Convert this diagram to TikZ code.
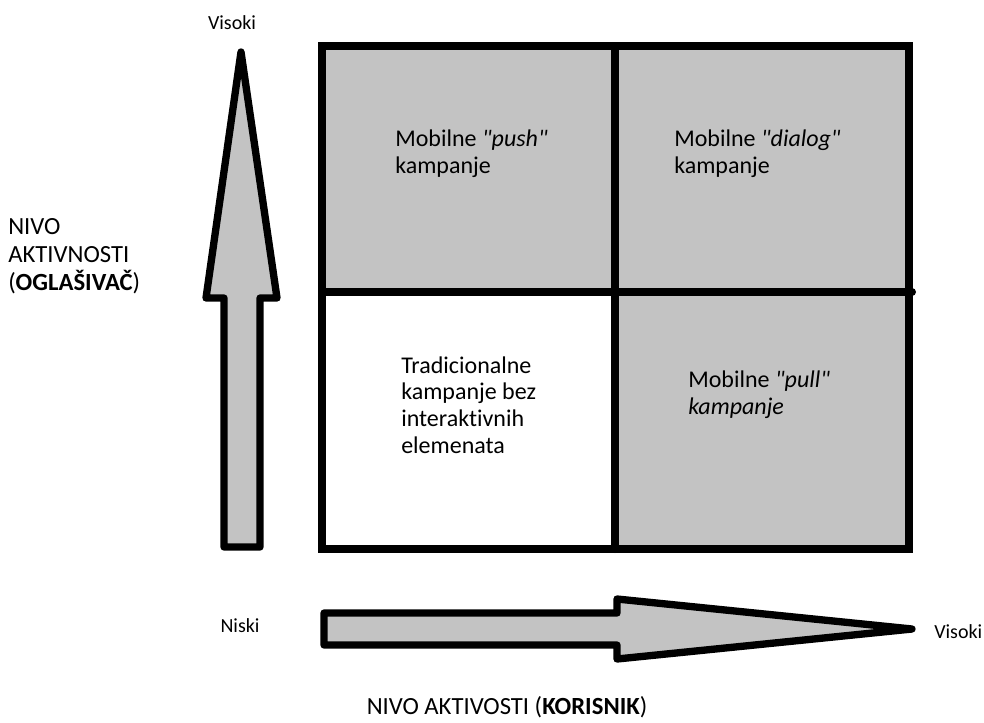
\documentclass[tikz,border=0pt]{standalone}
\usepackage{fontspec}
\setmainfont[Ligatures=NoCommon]{Carlito}
\definecolor{cellgray}{RGB}{195,195,195}
\newcommand{\qt}[1]{\textit{\textquotedbl#1\textquotedbl}}

\begin{document}
\begin{tikzpicture}[x=0.75pt,y=-0.75pt,
    gridline/.style={line width=6pt,line cap=round},
    bigarrow/.style={fill=cellgray,draw=black,line width=5.5pt,line join=round},
    celltext/.style={anchor=base west,align=left,inner sep=0pt,font=\fontsize{18}{20}\selectfont},
    endtext/.style={inner sep=0pt,font=\fontsize{15}{20}\selectfont},
    axistext/.style={inner sep=0pt,font=\fontsize{18.5}{21}\selectfont}]
  \useasboundingbox (0,0) rectangle (984,722);
  % shaded quadrants and grid
  \fill[cellgray] (322,46) rectangle (909,292);
  \fill[cellgray] (615,292) rectangle (909,549);
  \draw[gridline] (322,46) rectangle (909,549);
  \draw[gridline] (615,46) -- (615,549);
  \draw[gridline] (322,292) -- (912,292);
  % block arrows
  \draw[bigarrow] (241,52) -- (277,298) -- (260,298) -- (260,547) -- (224,547)
    -- (224,298) -- (206,298) -- cycle;
  \draw[bigarrow] (324,613) -- (617,613) -- (617,599) -- (912,629) -- (617,659)
    -- (617,645) -- (324,645) -- cycle;
  % axis labels
  \node[endtext,anchor=base] (ytop) at (232,29) {Visoki};
  \node[axistext,anchor=base west,align=left] (ylabel) at (8,290)
    {NIVO\\AKTIVNOSTI\\(\textbf{OGLAŠIVAČ})};
  \node[endtext,anchor=base] (xlow) at (240,632) {Niski};
  \node[endtext,anchor=base west] (xhigh) at (934,638) {Visoki};
  \node[axistext,anchor=base] (xlabel) at (507,714)
    {NIVO AKTIVOSTI (\textbf{KORISNIK})};
  % quadrant texts (base = last line)
  \node[celltext] (push) at (395,173) {Mobilne \qt{push}\\kampanje};
  \node[celltext] (dialog) at (674,173) {Mobilne \qt{dialog}\\kampanje};
  \node[celltext] (trad) at (401,453)
    {Tradicionalne\\kampanje bez\\interaktivnih\\elemenata};
  \node[celltext] (pull) at (688,414) {Mobilne \qt{pull}\\\textit{kampanje}};
\end{tikzpicture}
\end{document}
